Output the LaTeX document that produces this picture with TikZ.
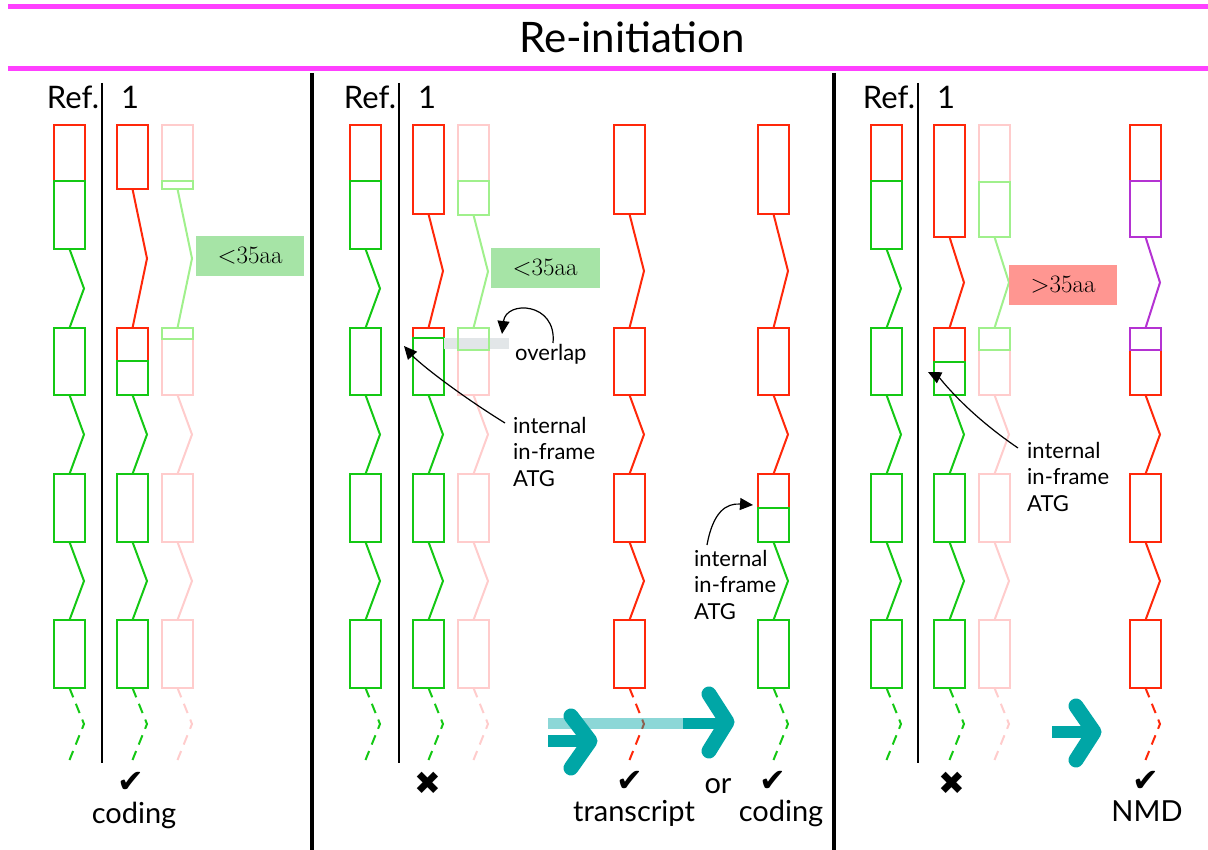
\documentclass[tikz,border=0pt]{standalone}
\usepackage{fontspec}
\usetikzlibrary{arrows.meta}
\newfontfamily\labfont{Lato}
\newfontfamily\symfont{DejaVu Sans}
\definecolor{gred}{RGB}{255,40,10}
\definecolor{ggreen}{RGB}{20,200,20}
\definecolor{ppink}{RGB}{255,204,204}
\definecolor{pgreen}{RGB}{160,240,140}
\definecolor{gpurple}{RGB}{180,50,210}
\definecolor{boxgreen}{RGB}{166,228,166}
\definecolor{boxred}{RGB}{255,150,145}
\definecolor{tealc}{RGB}{0,166,166}
\definecolor{magc}{RGB}{255,64,255}
\definecolor{ovgray}{RGB}{226,230,232}
\tikzset{
  exon/.style={line width=2.2pt},
  intron/.style={line width=2pt, line join=miter},
  dashline/.style={dash pattern=on 10pt off 7pt},
  divider/.style={line width=1.3pt, black},
  sep/.style={line width=3.5pt, black},
  magline/.style={line width=5pt, magc},
  annot/.style={-{Triangle[length=13pt,width=12pt]}, line width=1.2pt, black},
  annottext/.style={font=\labfont\fontsize{22}{26.5}\selectfont, align=left, anchor=north west, inner sep=0pt},
  bigtext/.style={font=\labfont\fontsize{29}{34}\selectfont, inner sep=0pt, anchor=base},
  reflab/.style={font=\labfont\fontsize{31}{34}\selectfont, inner sep=0pt, anchor=base},
  symb/.style={font=\symfont\fontsize{32}{34}\selectfont, inner sep=0pt},
  aabox/.style={font=\fontsize{25}{28}\selectfont, inner sep=0pt},
  shaft/.style={line width=12pt, tealc},
  chev/.style={line width=15pt, line cap=round, line join=round, tealc}
}
\newcommand{\exonbox}[4]{\draw[exon,#4] (#1,#2) rectangle ({#1+31},#3);}
\newcommand{\intronzz}[4]{\draw[intron,#4] ({#1+15.5},#2) -- ({#1+30},{(#2+#3)/2}) -- ({#1+15.5},#3);}
\newcommand{\tailpart}[2]{%
  \intronzz{#1}{395}{474}{#2}%
  \exonbox{#1}{474}{542}{#2}%
  \intronzz{#1}{542}{620}{#2}%
  \exonbox{#1}{620}{688}{#2}%
  \intronzz{#1}{688}{760}{#2,dashline}}
\newcommand{\refcol}[1]{%
  \exonbox{#1}{125}{181}{gred}%
  \exonbox{#1}{181}{249}{ggreen}%
  \intronzz{#1}{249}{328}{ggreen}%
  \exonbox{#1}{328}{395}{ggreen}%
  \tailpart{#1}{ggreen}}
\begin{document}
\begin{tikzpicture}[x=1pt,y=-1pt]
\useasboundingbox (0,0) rectangle (1208,850);
% title and magenta rules
\draw[magline] (8,7) -- (1208,7);
\draw[magline] (8,68.5) -- (1208,68.5);
\node[font=\labfont\fontsize{42}{48}\selectfont, inner sep=0pt, anchor=base] (title) at (632,53) {Re-initiation};
% panel separators
\draw[sep] (312,73) -- (312,850);
\draw[sep] (834,73) -- (834,850);
% dividers and headers
\foreach \dx [count=\i] in {102, 399, 918}{
  \draw[divider] (\dx,83) -- (\dx,763);
  \node[reflab] (ref\i) at ({\dx-29},109) {Ref.};
  \node[reflab] (one\i) at ({\dx+28},109) {1};
}
% ---------------- Panel 1 ----------------
\refcol{54}
\exonbox{117}{125}{189}{gred}
\intronzz{117}{189}{328}{gred}
\exonbox{117}{328}{361}{gred}
\exonbox{117}{361}{395}{ggreen}
\tailpart{117}{ggreen}
\exonbox{162}{125}{181}{ppink}
\exonbox{162}{181}{189}{pgreen}
\intronzz{162}{189}{328}{pgreen}
\exonbox{162}{328}{395}{ppink}
\exonbox{162}{328}{339}{pgreen}
\tailpart{162}{ppink}
\fill[boxgreen] (196,236) rectangle (304,276);
\node[aabox] (aa1) at (250,256) {<35aa};
\node[symb] (ok1) at (131,782) {✔};
\node[bigtext] (cod1) at (134,823) {coding};
% ---------------- Panel 2 ----------------
\refcol{350}
\exonbox{413}{125}{214}{gred}
\intronzz{413}{214}{328}{gred}
\exonbox{413}{328}{395}{gred}
\exonbox{413}{338}{395}{ggreen}
\tailpart{413}{ggreen}
\fill[ovgray] (444,338) rectangle (509,349);
\exonbox{458}{125}{181}{ppink}
\exonbox{458}{181}{215}{pgreen}
\intronzz{458}{215}{328}{pgreen}
\exonbox{458}{328}{395}{ppink}
\exonbox{458}{328}{350}{pgreen}
\tailpart{458}{ppink}
\fill[boxgreen] (491,248) rectangle (600,288);
\node[aabox] (aa2) at (545,268) {<35aa};
% transcript column
\exonbox{614}{125}{214}{gred}
\intronzz{614}{214}{328}{gred}
\exonbox{614}{328}{395}{gred}
\tailpart{614}{gred}
% coding column
\exonbox{758}{125}{214}{gred}
\intronzz{758}{214}{328}{gred}
\exonbox{758}{328}{395}{gred}
\intronzz{758}{395}{474}{gred}
\exonbox{758}{474}{508}{gred}
\exonbox{758}{508}{542}{ggreen}
\intronzz{758}{542}{620}{ggreen}
\exonbox{758}{620}{688}{ggreen}
\intronzz{758}{688}{760}{ggreen,dashline}
% annotations panel 2
\node[font=\labfont\fontsize{22}{26}\selectfont, inner sep=0pt, anchor=base west] (ovl) at (515,360) {overlap};
\coordinate (ovlstart) at (553,343);
\coordinate (ovltip) at (502,334);
\draw[annot] (ovlstart) .. controls (557,302) and (506,300) .. (ovltip);
\node[annottext] (atg2) at (513,417) {internal\\in-frame\\ATG};
\coordinate (atg2start) at (505,423);
\coordinate (atg2tip) at (404,346);
\draw[annot] (atg2start) .. controls (455,392) and (418,362) .. (atg2tip);
\node[annottext] (atg3) at (694,550) {internal\\in-frame\\ATG};
\coordinate (atg3start) at (707,545);
\coordinate (atg3tip) at (753,505);
\draw[annot] (atg3start) .. controls (713,512) and (726,503) .. (atg3tip);
% teal arrows panel 2
\draw[shaft] (548,740.5) -- (590,740.5);
\draw[chev] (571,716) -- (590,741) -- (571,768);
\draw[line width=11pt, tealc, opacity=0.45] (548,723) -- (683,723);
\draw[line width=11pt, tealc] (683,723) -- (725,723);
\draw[chev] (709,694) -- (727,722) -- (709,751);
\node[symb] (x2) at (428,783) {✖};
\node[symb] (ok2) at (630,781) {✔};
\node[bigtext] (tr2) at (634,821) {transcript};
\node[bigtext] (or2) at (718,793) {or};
\node[symb] (ok3) at (773,781) {✔};
\node[bigtext] (cod2) at (781,821) {coding};
% ---------------- Panel 3 ----------------
\refcol{871}
\exonbox{934}{125}{237}{gred}
\intronzz{934}{237}{328}{gred}
\exonbox{934}{328}{395}{gred}
\exonbox{934}{362}{395}{ggreen}
\tailpart{934}{ggreen}
\exonbox{979}{125}{182}{ppink}
\exonbox{979}{182}{237}{pgreen}
\intronzz{979}{237}{328}{pgreen}
\exonbox{979}{328}{395}{ppink}
\exonbox{979}{328}{350}{pgreen}
\tailpart{979}{ppink}
\fill[boxred] (1009,265) rectangle (1117,305);
\node[aabox] (aa3) at (1063,285) {>35aa};
\exonbox{1130}{125}{181}{gred}
\exonbox{1130}{181}{237}{gpurple}
\intronzz{1130}{237}{328}{gpurple}
\exonbox{1130}{328}{395}{gred}
\exonbox{1130}{328}{350}{gpurple}
\tailpart{1130}{gred}
\node[annottext] (atg4) at (1027,442) {internal\\in-frame\\ATG};
\coordinate (atg4start) at (1018,448);
\coordinate (atg4tip) at (928,372);
\draw[annot] (atg4start) .. controls (965,412) and (940,378) .. (atg4tip);
\draw[shaft] (1052,732) -- (1092,732);
\draw[chev] (1076,706) -- (1094,732) -- (1076,760);
\node[symb] (x3) at (952,783) {✖};
\node[symb] (ok4) at (1146,781) {✔};
\node[bigtext] (nmd) at (1147,821) {NMD};
\end{tikzpicture}
\end{document}
